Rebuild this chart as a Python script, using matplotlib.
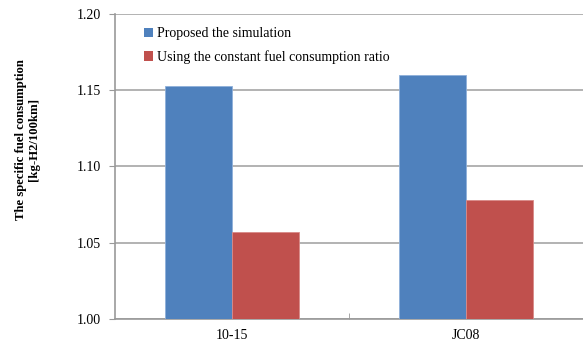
import numpy as np
import matplotlib.pyplot as plt
from matplotlib.patches import Patch

cycles = ["10-15", "JC08"]
proposed = [1.153, 1.160]
constant_ratio = [1.057, 1.078]
series_names = ["Proposed the simulation", "Using the constant fuel consumption ratio"]
y_ticks = [1.00, 1.05, 1.10, 1.15, 1.20]

plt.rcParams['font.family'] = ['Liberation Serif', 'DejaVu Serif']

fig = plt.figure(figsize=(5.83, 3.47), dpi=100)
ax = fig.add_axes([115 / 583, 1 - 319 / 347, 1 - 115 / 583, (319 - 14) / 347])

x = np.arange(len(cycles))
w = 0.287
blue = "#4f81bd"
red = "#c0504d"
ax.bar(x - w / 2, proposed, w, color=blue, edgecolor="#8fb0da", linewidth=0.6, zorder=3)
ax.bar(x + w / 2, constant_ratio, w, color=red, edgecolor="#d98a88", linewidth=0.6, zorder=3)

ax.set_xlim(-0.5, len(cycles) - 0.5)
ax.set_ylim(1.0, 1.2)
ax.set_yticks(y_ticks)
ax.set_yticklabels([f"{v:.2f}" for v in y_ticks], fontsize=10)
ax.set_xticks(x)
ax.set_xticklabels(cycles, fontsize=10)
ax.set_xticks([0.5], minor=True)
ax.tick_params(axis="x", which="major", length=0, pad=7)
ax.tick_params(axis="x", which="minor", length=4, direction="in", color="#999999")
ax.tick_params(axis="y", length=4, direction="out", color="#999999", pad=6)

ax.grid(axis="y", color="#a6a6a6", linewidth=1.2, zorder=0)
for side in ["top", "right"]:
    ax.spines[side].set_visible(False)
for side in ["left", "bottom"]:
    ax.spines[side].set_color("#999999")
    ax.spines[side].set_linewidth(1.2)

handles = [Patch(facecolor=blue), Patch(facecolor=red)]
ax.legend(handles, series_names, loc="upper left", bbox_to_anchor=(0.051, 0.974),
          frameon=False, fontsize=10, handlelength=0.65, handleheight=0.65,
          handletextpad=0.25, labelspacing=0.7, borderaxespad=0)

fig.text(0.047, 0.597, "The specific fuel consumption\n[kg-H2/100km]", rotation=90,
         ha="center", va="center", fontsize=9.2, fontweight="bold", linespacing=1.05)

fig.savefig("out.png", dpi=100)
